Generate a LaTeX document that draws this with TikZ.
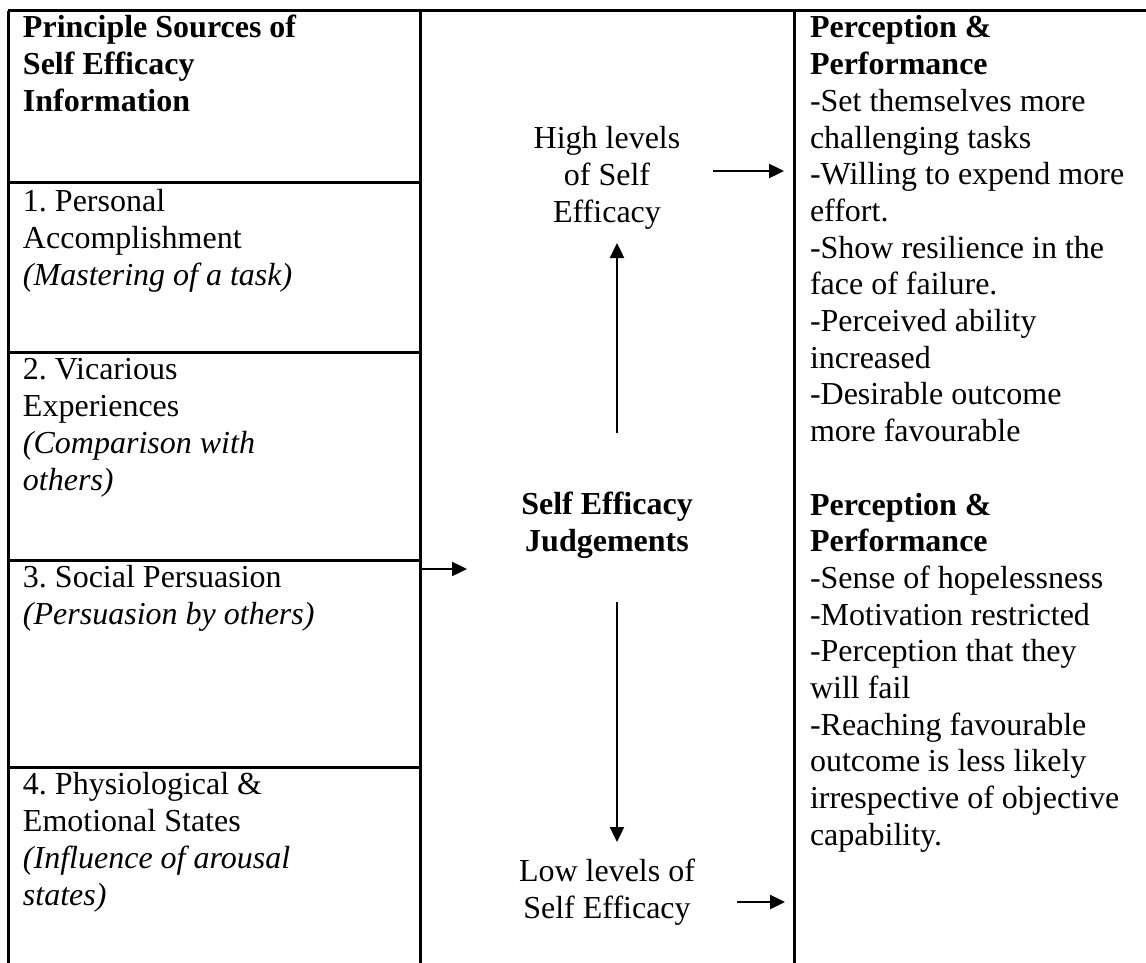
\documentclass[tikz,border=0pt]{standalone}
\usepackage{fontspec}
\setmainfont{Liberation Serif}
\usetikzlibrary{arrows.meta}
\frenchspacing
\begin{document}
\begin{tikzpicture}[x=1pt,y=-1pt,
  txt/.style={inner sep=0pt, outer sep=0pt, font=\fontsize{32}{36.7}\selectfont, align=left, anchor=north west},
  ctxt/.style={txt, align=center, anchor=north},
  rule/.style={line width=3pt},
  arr/.style={line width=2.4pt, -{Triangle[length=15pt,width=14pt]}}]
\useasboundingbox (0,0) rectangle (1146,963);
% table rules
\coordinate (tl) at (8,11);
\coordinate (tr) at (1146,11);
\coordinate (bl) at (8,963);
\coordinate (c1t) at (420,11);
\coordinate (c1b) at (420,963);
\coordinate (c2t) at (794,11);
\coordinate (c2b) at (794,963);
\draw[rule] (tl) -- (tr);
\draw[rule] (tl) -- (bl);
\draw[rule] (c1t) -- (c1b);
\draw[rule] (c2t) -- (c2b);
\foreach \yy/\nm in {182/a,352/b,560/c,767/d}{
  \coordinate (h\nm l) at (8,\yy);
  \coordinate (h\nm r) at (420,\yy);
  \draw[rule] (h\nm l) -- (h\nm r);
}
% left column
\node[txt] (hdr) at (23,12.3) {\strut\textbf{Principle Sources of}\\\textbf{Self Efficacy}\\\textbf{Information}};
\node[txt] (src1) at (23,186.3) {\strut 1. Personal\\Accomplishment\\\textit{(Mastering of a task)}};
\node[txt] (src2) at (23,354.3) {\strut 2. Vicarious\\Experiences\\\textit{(Comparison with}\\\textit{others)}};
\node[txt] (src3) at (23,562.3) {\strut 3. Social Persuasion\\\textit{(Persuasion by others)}};
\node[txt] (src4) at (23,769.3) {\strut 4. Physiological \&\\Emotional States\\\textit{(Influence of arousal}\\\textit{states)}};
% middle column
\node[ctxt] (high) at (607,123.3) {\strut High levels\\of Self\\Efficacy};
\node[ctxt] (judge) at (607,489.3) {\strut\textbf{Self Efficacy}\\\textbf{Judgements}};
\node[ctxt] (low) at (607,856.3) {\strut Low levels of\\Self Efficacy};
% right column
\node[txt] (perf) at (810,12.3) {\strut\textbf{Perception \&}\\\textbf{Performance}\\-Set themselves more\\challenging tasks\\-Willing to expend more\\effort.\\-Show resilience in the\\face of failure.\\-Perceived ability\\increased\\-Desirable outcome\\more favourable\\\strut\\\textbf{Perception \&}\\\textbf{Performance}\\-Sense of hopelessness\\-Motivation restricted\\-Perception that they\\will fail\\-Reaching favourable\\outcome is less likely\\irrespective of objective\\capability.};
% arrows
\coordinate (inS) at (420,569);
\coordinate (inE) at (467,569);
\coordinate (upS) at (617,433);
\coordinate (upE) at (617,243);
\coordinate (dnS) at (617,602);
\coordinate (dnE) at (617,842);
\coordinate (hiS) at (713,171);
\coordinate (hiE) at (784,171);
\coordinate (loS) at (737,902);
\coordinate (loE) at (785,902);
\draw[arr] (inS) -- (inE);
\draw[arr] (upS) -- (upE);
\draw[arr] (dnS) -- (dnE);
\draw[arr] (hiS) -- (hiE);
\draw[arr] (loS) -- (loE);
\end{tikzpicture}
\end{document}
